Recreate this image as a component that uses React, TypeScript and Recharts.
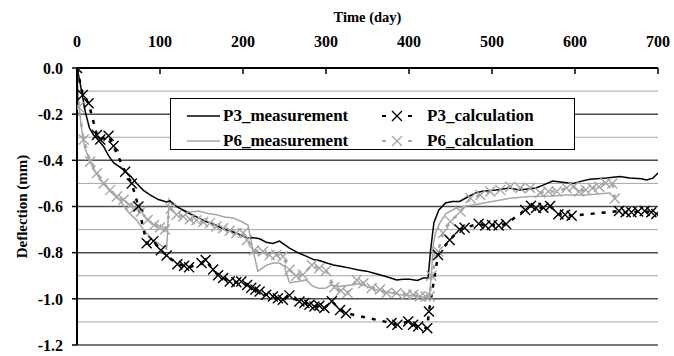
import { LineChart, Line, XAxis, YAxis, ReferenceLine, Legend } from 'recharts'

type Pt = [number, number]

// [day, deflection mm]
const p3Measurement: Pt[] = [
  [0, 0], [3, -0.05], [6, -0.11], [10, -0.19], [15, -0.26], [20, -0.29], [25, -0.31], [32, -0.34],
  [38, -0.38], [44, -0.41], [56, -0.44], [65, -0.47], [72, -0.5], [80, -0.53], [88, -0.55], [98, -0.57],
  [108, -0.58], [112, -0.575], [120, -0.6], [132, -0.625], [144, -0.645], [155, -0.665], [164, -0.675],
  [175, -0.695], [184, -0.705], [195, -0.72], [204, -0.735], [212, -0.735], [220, -0.74], [228, -0.755],
  [236, -0.76], [244, -0.75], [256, -0.78], [266, -0.8], [276, -0.815], [285, -0.83], [293, -0.835],
  [301, -0.845], [309, -0.853], [319, -0.86], [329, -0.867], [339, -0.875], [349, -0.88], [359, -0.89],
  [369, -0.9], [378, -0.91], [385, -0.918], [393, -0.915], [401, -0.915], [410, -0.92], [417, -0.91],
  [423, -0.91], [426, -0.79], [430, -0.67], [436, -0.615], [444, -0.585], [452, -0.578], [461, -0.578],
  [470, -0.56], [481, -0.54], [490, -0.533], [505, -0.528], [521, -0.52], [533, -0.528], [541, -0.525],
  [553, -0.52], [563, -0.505], [573, -0.49], [585, -0.495], [598, -0.5], [608, -0.49], [618, -0.482],
  [638, -0.477], [654, -0.47], [666, -0.477], [680, -0.48], [686, -0.485], [694, -0.477], [700, -0.455],
]

const p3Calculation: Pt[] = [
  [0, 0], [7, -0.117], [14, -0.153], [24, -0.29], [28, -0.31], [38, -0.294], [44, -0.338], [58, -0.449],
  [66, -0.5], [74, -0.6], [84, -0.759], [92, -0.75], [101, -0.79], [108, -0.812], [121, -0.85],
  [129, -0.857], [135, -0.863], [150, -0.845], [155, -0.832], [164, -0.873], [170, -0.898], [176, -0.91],
  [184, -0.925], [192, -0.928], [198, -0.925], [205, -0.94], [210, -0.952], [215, -0.96], [220, -0.968],
  [228, -0.982], [236, -0.99], [242, -0.997], [248, -1.004], [256, -0.985], [268, -1.012], [274, -1.018],
  [280, -1.026], [286, -1.033], [292, -1.03], [298, -1.04], [307, -1.01], [317, -1.048], [324, -1.062],
  [379, -1.105], [386, -1.112], [399, -1.098], [405, -1.112], [411, -1.12], [422, -1.127], [424, -1.055],
  [435, -0.81], [449, -0.745], [461, -0.7], [467, -0.692], [484, -0.675], [492, -0.682], [500, -0.68],
  [508, -0.682], [517, -0.676], [540, -0.615], [547, -0.597], [553, -0.607], [562, -0.605], [570, -0.598],
  [580, -0.634], [588, -0.636], [596, -0.64], [653, -0.62], [661, -0.625], [668, -0.625], [676, -0.622],
  [684, -0.62], [692, -0.625], [698, -0.632],
]

const p6Measurement: Pt[] = [
  [0, 0], [2, -0.15], [5, -0.25], [9, -0.34], [15, -0.4], [22, -0.45], [30, -0.49], [40, -0.535],
  [52, -0.575], [62, -0.625], [72, -0.66], [80, -0.7], [90, -0.74], [100, -0.765], [108, -0.785],
  [111, -0.57], [116, -0.6], [124, -0.607], [135, -0.625], [147, -0.62], [158, -0.63], [168, -0.636],
  [178, -0.645], [188, -0.65], [198, -0.665], [206, -0.68], [212, -0.79], [218, -0.88], [228, -0.855],
  [236, -0.845], [244, -0.845], [250, -0.86], [256, -0.93], [266, -0.925], [276, -0.918], [284, -0.945],
  [292, -0.955], [300, -0.953], [306, -0.94], [317, -0.946], [330, -0.94], [340, -0.935], [349, -0.946],
  [360, -0.96], [369, -0.968], [380, -0.975], [389, -0.982], [400, -0.985], [413, -0.99], [424, -0.997],
  [427, -0.9], [429, -0.77], [432, -0.715], [437, -0.672], [445, -0.63], [455, -0.61], [466, -0.6],
  [482, -0.59], [502, -0.577], [522, -0.564], [545, -0.557], [573, -0.555], [590, -0.55], [613, -0.55],
  [630, -0.545], [643, -0.542],
]

const p6Calculation: Pt[] = [
  [0, 0], [2, -0.17], [8, -0.31], [16, -0.405], [24, -0.456], [32, -0.5], [40, -0.528], [48, -0.557],
  [56, -0.571], [64, -0.595], [70, -0.607], [77, -0.622], [85, -0.658], [93, -0.68], [100, -0.69],
  [106, -0.7], [113, -0.61], [120, -0.636], [128, -0.643], [136, -0.655], [144, -0.66], [152, -0.667],
  [160, -0.672], [168, -0.687], [176, -0.694], [184, -0.705], [192, -0.715], [200, -0.715], [205, -0.745],
  [213, -0.79], [224, -0.795], [232, -0.81], [240, -0.81], [248, -0.816], [256, -0.874], [264, -0.9],
  [272, -0.896], [283, -0.853], [292, -0.867], [300, -0.878], [310, -0.95], [318, -0.965], [326, -0.975],
  [337, -0.918], [345, -0.932], [355, -0.953], [365, -0.96], [373, -0.975], [385, -0.975], [397, -0.982],
  [405, -0.982], [413, -0.99], [420, -0.99], [425, -0.99], [427, -0.9], [435, -0.795], [441, -0.715],
  [450, -0.665], [462, -0.622], [474, -0.564], [486, -0.55], [498, -0.535], [510, -0.528], [522, -0.514],
  [534, -0.52], [546, -0.52], [558, -0.54], [568, -0.535], [578, -0.535], [590, -0.52], [598, -0.514],
  [605, -0.535], [613, -0.528], [621, -0.52], [629, -0.514], [637, -0.498], [645, -0.5], [648, -0.565],
]

const xTicks = [0, 100, 200, 300, 400, 500, 600, 700]
const yTicks = [0, -0.2, -0.4, -0.6, -0.8, -1.0, -1.2]
const gridValues = [-0.1, -0.2, -0.3, -0.4, -0.5, -0.6, -0.7, -0.8, -0.9, -1.0, -1.1, -1.2]
const legendOrder = ['P3_measurement', 'P3_calculation', 'P6_measurement', 'P6_calculation']

const FONT = "'Liberation Serif', 'Times New Roman', serif"
const GRAY = '#a6a6a6'

const toRows = (pts: Pt[]) => pts.map(([day, value]) => ({ day, value }))

const cross = (color: string) => (props: any) => {
  const { cx, cy, index } = props
  if (cx == null || cy == null) return <g key={index} />
  const s = 5
  return (
    <path
      key={index}
      d={`M${cx - s},${cy - s}L${cx + s},${cy + s}M${cx - s},${cy + s}L${cx + s},${cy - s}`}
      stroke={color}
      strokeWidth={1.4}
      strokeDasharray="none"
      fill="none"
    />
  )
}

function TopTick(props: any) {
  const { x, y, payload } = props
  return (
    <g>
      <text x={x} y={y} textAnchor="middle" fontFamily={FONT} fontWeight="bold" fontSize={16} fill="#000">
        {payload.value}
      </text>
      <line x1={x} x2={x} y1={y + 21} y2={y + 27} stroke="#000" strokeWidth={1.5} />
    </g>
  )
}

function XTitle(props: any) {
  const { viewBox } = props
  return (
    <text x={viewBox.x + viewBox.width / 2} y={viewBox.y + 22} textAnchor="middle" fontFamily={FONT} fontWeight="bold" fontSize={14.5} fill="#000">
      Time (day)
    </text>
  )
}

function YTitle(props: any) {
  const { viewBox } = props
  const cx = viewBox.x + 22
  const cy = viewBox.y + viewBox.height / 2
  return (
    <text x={cx} y={cy} transform={`rotate(-90 ${cx} ${cy})`} textAnchor="middle" dominantBaseline="central" fontFamily={FONT} fontWeight="bold" fontSize={15} fill="#000">
      Deflection (mm)
    </text>
  )
}

function Sample({ color, calc }: { color: string; calc: boolean }) {
  return (
    <svg width={33} height={14} style={{ display: 'block' }}>
      {calc ? (
        <>
          <line x1={2} x2={6} y1={7} y2={7} stroke={color} strokeWidth={2} />
          <path d="M12,2L22,12M12,12L22,2" stroke={color} strokeWidth={1.4} />
          <line x1={28} x2={32} y1={7} y2={7} stroke={color} strokeWidth={2} />
        </>
      ) : (
        <line x1={0} x2={33} y1={7} y2={7} stroke={color} strokeWidth={1.5} />
      )}
    </svg>
  )
}

function renderLegend(props: any) {
  const items = [...(props.payload || [])].sort(
    (a: any, b: any) => legendOrder.indexOf(a.value) - legendOrder.indexOf(b.value)
  )
  return (
    <div
      style={{
        boxSizing: 'border-box',
        width: 405,
        height: 52,
        border: '1px solid #000',
        background: '#fff',
        paddingTop: 4,
        display: 'grid',
        gridTemplateColumns: '209px 1fr',
        gridAutoRows: 25,
        fontFamily: FONT,
        fontWeight: 'bold',
        fontSize: 17,
        color: '#000',
      }}
    >
      {items.map((it: any, i: number) => {
        const calc = String(it.value).includes('calculation')
        return (
          <div key={it.value} style={{ display: 'flex', alignItems: 'center', paddingLeft: i % 2 === 0 ? 16 : 0 }}>
            <Sample color={it.color} calc={calc} />
            <span style={{ marginLeft: i % 2 === 0 ? 3 : 14 }}>{it.value}</span>
          </div>
        )
      })}
    </div>
  )
}

export default function App() {
  return (
    <div style={{ position: 'absolute', left: 0, top: 0, width: 674, height: 356, background: '#fff' }}>
      <LineChart width={674} height={356} margin={{ top: 0, right: 16, bottom: 11, left: 0 }}>
        <XAxis
          type="number"
          dataKey="day"
          orientation="top"
          domain={[0, 700]}
          ticks={xTicks}
          height={68}
          axisLine={{ stroke: '#000', strokeWidth: 2 }}
          tickLine={false}
          tickSize={0}
          tickMargin={21}
          tick={<TopTick />}
          label={<XTitle />}
          allowDataOverflow
        />
        <YAxis
          type="number"
          dataKey="value"
          domain={[-1.2, 0]}
          ticks={yTicks}
          width={77}
          axisLine={{ stroke: '#000', strokeWidth: 2 }}
          tickLine={{ stroke: '#000', strokeWidth: 1.5 }}
          tickSize={5}
          tickMargin={9}
          tick={{ fill: '#000', fontSize: 16, fontWeight: 'bold', fontFamily: FONT }}
          tickFormatter={(v: number) => v.toFixed(1)}
          label={<YTitle />}
          allowDataOverflow
        />
        {gridValues.map((v, i) => (
          <ReferenceLine
            key={v}
            y={v}
            stroke={i % 2 === 1 ? '#4d4d4d' : GRAY}
            strokeWidth={i % 2 === 1 ? 1.5 : 1}
          />
        ))}
        <Legend
          layout="horizontal"
          verticalAlign="middle"
          align="center"
          wrapperStyle={{ left: 170, top: 98, width: 405, height: 52 }}
          content={renderLegend}
        />
        <Line
          data={toRows(p6Measurement)}
          dataKey="value"
          name="P6_measurement"
          type="linear"
          stroke={GRAY}
          strokeWidth={1.5}
          dot={false}
          activeDot={false}
          isAnimationActive={false}
        />
        <Line
          data={toRows(p6Calculation)}
          dataKey="value"
          name="P6_calculation"
          type="linear"
          stroke={GRAY}
          strokeWidth={2.5}
          strokeDasharray="4 7"
          dot={cross(GRAY)}
          activeDot={false}
          isAnimationActive={false}
        />
        <Line
          data={toRows(p3Measurement)}
          dataKey="value"
          name="P3_measurement"
          type="linear"
          stroke="#000"
          strokeWidth={1.5}
          dot={false}
          activeDot={false}
          isAnimationActive={false}
        />
        <Line
          data={toRows(p3Calculation)}
          dataKey="value"
          name="P3_calculation"
          type="linear"
          stroke="#000"
          strokeWidth={2.5}
          strokeDasharray="4 7"
          dot={cross('#000')}
          activeDot={false}
          isAnimationActive={false}
        />
      </LineChart>
    </div>
  )
}
